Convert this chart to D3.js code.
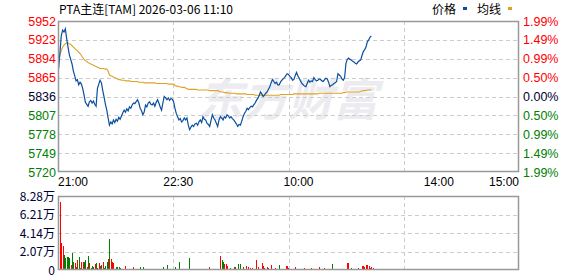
<!DOCTYPE html>
<html>
<head>
<meta charset="utf-8">
<script src="https://cdn.jsdelivr.net/npm/d3@7"></script>
<style>
  body { margin: 0; background: #fff; }
  svg { display: block; }
</style>
</head>
<body>
<div id="chart"></div>
<script>
// ---- data ----
const chartTitle = "PTA主连[TAM] 2026-03-06 11:10";
const preClose = 5836;
const priceTicks = [5720, 5749, 5778, 5807, 5836, 5865, 5894, 5923, 5952];
const pctLabels = ["1.99%", "1.49%", "0.99%", "0.50%", "0.00%", "0.50%", "0.99%", "1.49%", "1.99%"];
const timeLabels = ["21:00", "22:30", "10:00", "14:00", "15:00"];
const timeLabelMinutes = [0, 90, 180, 285, 345];
const totalMinutes = 345;
const volTicks = [0, 20700, 41400, 62100, 82800];
const volLabels = ["0", "2.07万", "4.14万", "6.21万", "8.28万"];

// one value per minute, 21:01 .. 11:10
const prices = [
  5879,5905,5930,5938,5935,5940,5925,5912,5900,5893,
  5886,5875,5868,5860,5862,5854,5858,5855,5848,5838,
  5827,5824,5821,5828,5830,5826,5829,5824,5821,5848,
  5855,5861,5857,5845,5835,5824,5815,5803,5792,5797,
  5794,5800,5796,5801,5798,5804,5801,5806,5811,5815,
  5812,5817,5814,5820,5818,5823,5826,5825,5828,5831,
  5826,5818,5814,5808,5812,5823,5820,5826,5828,5824,
  5823,5826,5821,5827,5831,5826,5820,5815,5826,5836,
  5834,5831,5834,5830,5833,5832,5828,5818,5810,5805,
  5800,5802,5797,5799,5803,5800,5803,5792,5785,5789,
  5792,5790,5794,5795,5792,5797,5800,5796,5805,5801,
  5800,5795,5793,5790,5799,5808,5803,5800,5795,5790,
  5800,5805,5803,5800,5805,5803,5808,5806,5803,5805,
  5802,5800,5797,5794,5790,5793,5792,5798,5805,5810,
  5813,5818,5816,5819,5821,5820,5823,5826,5830,5833,
  5837,5843,5840,5836,5838,5841,5843,5847,5851,5857,
  5862,5859,5856,5858,5854,5854,5858,5861,5863,5865,
  5868,5871,5870,5867,5865,5861,5862,5868,5873,5868,
  5864,5860,5856,5854,5852,5851,5856,5861,5858,5860,
  5859,5865,5862,5860,5861,5863,5862,5860,5859,5862,
  5864,5863,5858,5851,5853,5854,5856,5857,5859,5871,
  5869,5867,5863,5861,5865,5887,5893,5895,5893,5892,
  5890,5889,5887,5886,5889,5891,5892,5899,5905,5908,
  5912,5920,5923,5927,5929
];

const avgPrices = [
  5892,5900,5907,5912,5915,5917,5918,5918,5917,5916,
  5914,5912,5910,5908,5906,5904,5902,5899,5896,5893,
  5891,5890,5888,5887,5886,5885,5884,5883,5882,5881,
  5880,5879,5879,5879,5879,5878,5878,5875,5869,5868,
  5867,5866,5865,5864,5863,5862,5862,5861,5861,5861,
  5860,5860,5860,5860,5859,5859,5859,5859,5859,5859,
  5858,5858,5858,5858,5857,5857,5857,5857,5857,5857,
  5857,5857,5857,5856,5856,5856,5856,5856,5856,5856,
  5856,5856,5855,5855,5855,5855,5855,5853,5852,5852,
  5851,5851,5850,5850,5850,5849,5848,5847,5847,5847,
  5847,5847,5847,5847,5846,5846,5846,5846,5846,5846,
  5846,5846,5846,5845,5845,5845,5845,5845,5845,5845,
  5844,5843,5843,5843,5842,5842,5842,5841,5841,5841,
  5841,5841,5841,5840,5840,5840,5840,5840,5840,5840,
  5840,5839,5839,5839,5839,5839,5839,5838,5838,5838,
  5838,5838,5838,5838,5838,5838,5838,5838,5838,5838,
  5838,5838,5838,5838,5838,5838,5839,5839,5839,5839,
  5839,5839,5839,5839,5839,5839,5840,5840,5840,5840,
  5840,5840,5840,5840,5840,5840,5840,5840,5840,5840,
  5840,5840,5840,5840,5840,5841,5841,5841,5841,5841,
  5841,5841,5841,5841,5841,5841,5841,5841,5841,5841,
  5841,5841,5841,5842,5842,5843,5843,5843,5843,5843,
  5843,5843,5843,5843,5843,5843,5844,5844,5845,5845,
  5845,5846,5846,5846,5846
];

const volumes = [
  76400,29900,26900,16800,13000,14900,14200,13000,5500,18600,
  9300,7500,3000,11200,14200,2500,9300,9300,9300,11200,
  3000,15700,8200,2000,4500,3700,6700,8200,2000,8200,
  4500,5600,9300,2500,4500,9300,12300,34700,12300,9300,
  8200,1500,3000,3000,3000,2500,1000,1500,1200,4500,
  1500,1000,1500,800,1200,3000,1000,800,1200,1000,
  3000,1200,3000,1000,800,1200,1500,800,1000,1200,
  1500,800,1000,1200,1000,1500,1000,3000,1200,1500,
  5600,1000,800,1500,1000,800,3700,1200,1500,9300,
  1000,800,1500,1000,1200,800,1000,13800,1500,1000,
  1500,800,1200,1000,1500,1000,1200,800,1500,1000,
  800,1000,3000,1200,1000,1500,1000,800,1200,1000,
  15700,11200,9300,6700,6700,4500,1500,2000,1000,1200,
  3000,3700,1200,6700,1500,6700,1000,3000,1500,4500,
  1000,3000,2000,1000,2000,1200,1000,11200,3000,1500,
  1000,8200,4500,2000,1000,3000,2000,1000,5200,1500,
  1000,2000,1000,800,5600,1000,800,1000,1200,4000,
  4500,2000,1000,800,1000,1200,3000,1500,1000,800,
  1000,1000,800,2000,1000,800,1200,1500,2000,1000,
  800,1200,1000,800,3000,1000,800,1000,2000,1200,
  1000,800,1000,1500,6700,1000,800,1000,1200,1500,
  1000,800,1000,1200,1000,7500,7500,1500,2000,1000,
  800,1000,1200,2000,1000,1200,4500,4500,3000,5600,
  5600,4000,2000,3000,2000
];

// r = up bar, g = down bar
const volDirs = (
  "rrrgggggrg" + "grgrggrrgg" + "rgrgggrgrr" + "rgrgggrgrr" + "rgggggrgrr" +
  "rgrgrrrgrr" + "ggggrrrgrg" + "rrgrrgggrr" + "ggrrgrgggg" + "grrgrgrggr" +
  "rgrrrrrgrg" + "ggrgrggggg" + "rggrrrrggr" + "rgggggrrrr" + "rrrgrrrrrr" +
  "rrrgrrrrrr" + "rrgrggrrrr" + "rrggggrrrg" + "gggrggrrrg" + "rrggrrggrr" +
  "rggggrrrrr" + "ggrgrrrrgg" + "grggrrrrrr" + "rrrrr"
).split("");

// ---- layout ----
const w = 578, h = 276;
const left = 58, right = 519;
const priceTop = 21, priceBottom = 172;
const volTop = 196, volBottom = 270;

const red = "#ff0000", green = "#008000", ink = "#000033";
const gridColor = "#cccccc", frameColor = "#999999";
const priceColor = "#0a4f9e", avgColor = "#e0a226";
const numFont = "'Liberation Sans', Arial, sans-serif";
const cjkFont = "'Noto Sans CJK SC', 'Noto Sans', sans-serif";

const xScale = d3.scaleLinear().domain([0, totalMinutes]).range([left, right]);
const yScale = d3.scaleLinear().domain([priceTicks[0], priceTicks[priceTicks.length - 1]]).range([priceBottom, priceTop]);
const vScale = d3.scaleLinear().domain([0, volTicks[volTicks.length - 1]]).range([volBottom, volTop]);

const svg = d3.select("#chart").append("svg")
  .attr("width", w)
  .attr("height", h);

// title + legend
svg.append("text")
  .attr("x", 59).attr("y", 13.5)
  .attr("font-family", cjkFont).attr("font-size", 12)
  .attr("fill", "#000")
  .text(chartTitle);

const legend = [
  { name: "价格", color: priceColor, x: 432 },
  { name: "均线", color: avgColor, x: 477 }
];
const lg = svg.selectAll(".legend").data(legend).enter().append("g")
  .attr("transform", d => `translate(${d.x},0)`);
lg.append("text")
  .attr("y", 13.5)
  .attr("font-family", cjkFont).attr("font-size", 12)
  .attr("fill", "#000")
  .text(d => d.name);
lg.append("rect")
  .attr("x", 31).attr("y", 7).attr("width", 4).attr("height", 3)
  .attr("fill", d => d.color);

// watermark
svg.append("text")
  .attr("x", 198).attr("y", 116)
  .attr("font-family", cjkFont).attr("font-size", 45).attr("font-weight", "bold")
  .attr("font-style", "italic")
  .attr("fill", "#ececf0")
  .text("东方财富");

const quarters = [1, 2, 3].map(q => totalMinutes * q / 4);
const crisp = v => Math.round(v) + 0.5;

// grid for a panel
function drawGrid(top, bottom, hLines) {
  const g = svg.append("g")
    .attr("stroke", gridColor)
    .attr("stroke-dasharray", "4,3")
    .attr("fill", "none");
  g.selectAll(".v").data(quarters).enter().append("line")
    .attr("x1", d => crisp(xScale(d))).attr("x2", d => crisp(xScale(d)))
    .attr("y1", top).attr("y2", bottom);
  g.selectAll(".h").data(hLines).enter().append("line")
    .attr("x1", left).attr("x2", right)
    .attr("y1", d => d).attr("y2", d => d);
}

drawGrid(priceTop, priceBottom, priceTicks.slice(1, -1).map(t => crisp(yScale(t))));
drawGrid(volTop, volBottom, volTicks.slice(1, -1).map(t => crisp(vScale(t))));

// price axis labels
const tickColor = t => t > preClose ? red : (t < preClose ? green : ink);

svg.append("g").selectAll("text").data(priceTicks).enter().append("text")
  .attr("x", 56)
  .attr("y", d => yScale(d) + 4.5)
  .attr("text-anchor", "end")
  .attr("font-family", numFont).attr("font-size", 12.5)
  .attr("fill", tickColor)
  .text(d => d);

svg.append("g").selectAll("text").data(priceTicks.slice().reverse()).enter().append("text")
  .attr("x", 523)
  .attr("y", d => yScale(d) + 4.5)
  .attr("font-family", numFont).attr("font-size", 12.5)
  .attr("fill", tickColor)
  .text((d, i) => pctLabels[i]);

// time labels
svg.append("g").selectAll("text").data(timeLabels).enter().append("text")
  .attr("x", (d, i) => xScale(timeLabelMinutes[i]))
  .attr("y", 186)
  .attr("text-anchor", (d, i) => i === 0 ? "start" : (i === timeLabels.length - 1 ? "end" : "middle"))
  .attr("font-family", numFont).attr("font-size", 12)
  .attr("fill", "#000")
  .text(d => d);

// volume labels
svg.append("g").selectAll("text").data(volTicks).enter().append("text")
  .attr("x", 55)
  .attr("y", d => vScale(d) + 4.5)
  .attr("text-anchor", "end")
  .attr("font-family", cjkFont).attr("font-size", 12)
  .attr("fill", ink)
  .text((d, i) => volLabels[i]);

// volume bars
svg.append("g").selectAll("rect").data(volumes).enter().append("rect")
  .attr("x", (d, i) => Math.floor(xScale(i + 1)) + 1)
  .attr("width", 1)
  .attr("y", d => Math.round(vScale(d)))
  .attr("height", d => volBottom - Math.round(vScale(d)))
  .attr("fill", (d, i) => volDirs[i] === "r" ? red : green);

// average and price lines
const line = d3.line()
  .x((d, i) => xScale(i + 0.5))
  .y(d => yScale(d));

svg.append("path")
  .datum(avgPrices)
  .attr("d", line)
  .attr("fill", "none")
  .attr("stroke", avgColor)
  .attr("stroke-width", 1.1);

svg.append("path")
  .datum(prices)
  .attr("d", line)
  .attr("fill", "none")
  .attr("stroke", priceColor)
  .attr("stroke-width", 1.2);

// panel frames
[[priceTop, priceBottom], [volTop, volBottom]].forEach(([t, b]) => {
  svg.append("rect")
    .attr("x", left + 0.5).attr("y", t + 0.5)
    .attr("width", right - left - 1).attr("height", b - t - 1)
    .attr("fill", "none")
    .attr("stroke", frameColor)
    .attr("stroke-width", 1.5);
});
</script>
</body>
</html>
